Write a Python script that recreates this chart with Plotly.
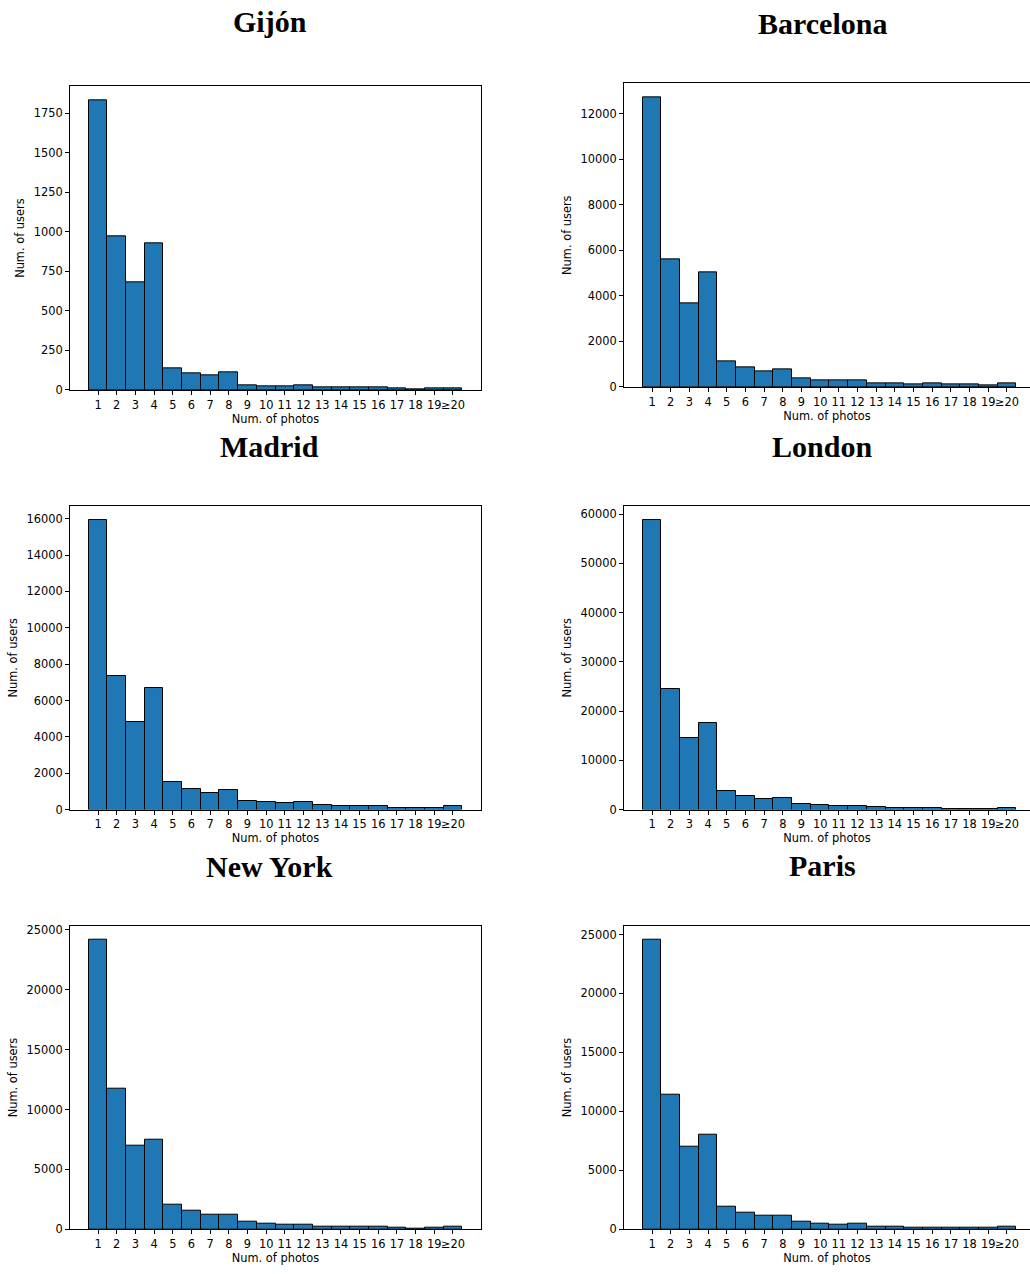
import plotly.graph_objects as go

photos = list(range(1, 21))
tick_labels = [str(i) for i in range(1, 20)] + ["≥20"]

cities = ["Gijón", "Barcelona", "Madrid", "London", "New York", "Paris"]

gijon = [1830, 970, 681, 931, 136, 105, 92, 111, 29, 21, 25, 31, 17, 17, 17, 17, 8, 4, 8, 10]
barcelona = [12700, 5620, 3690, 5030, 1133, 843, 697, 770, 378, 305, 276, 305, 174, 160, 131, 145, 102, 102, 73, 145]
madrid = [15900, 7360, 4830, 6670, 1530, 1111, 929, 1093, 492, 419, 364, 419, 237, 182, 182, 200, 109, 109, 91, 200]
london = [58720, 24480, 14530, 17490, 3767, 2758, 2220, 2287, 1143, 942, 807, 740, 471, 404, 269, 269, 202, 135, 135, 336]
new_york = [24140, 11720, 7020, 7440, 2074, 1548, 1189, 1217, 608, 498, 415, 415, 221, 194, 194, 194, 138, 83, 111, 194]
paris = [24520, 11430, 7020, 8006, 1910, 1404, 1124, 1180, 618, 478, 365, 449, 253, 197, 169, 169, 140, 112, 112, 197]

series = [gijon, barcelona, madrid, london, new_york, paris]
y_dticks = [250, 2000, 2000, 10000, 5000, 5000]

W, H = 1030, 1274
# pixel boxes: (left, right, top, bottom)
boxes = [
    (70, 481, 84, 390),
    (624, 1030, 81, 387),
    (70, 481, 507, 813),
    (624, 1030, 507, 813),
    (70, 481, 930, 1236),
    (624, 1030, 930, 1236),
]
title_pos = [(269.5, 19), (822, 21), (269.5, 447), (822, 447), (269.5, 870), (822, 869)]

fig = go.Figure()
tickfont = dict(family="DejaVu Sans", size=11.4, color="black")

for i, (name, vals) in enumerate(zip(cities, series)):
    n = "" if i == 0 else str(i + 1)
    fig.add_trace(go.Bar(
        x=photos, y=vals, width=1,
        marker=dict(color="#1f77b4", line=dict(color="black", width=1)),
        xaxis="x" + n, yaxis="y" + n, showlegend=False,
    ))
    l, r, t, b = boxes[i]
    right_col = (i % 2 == 1)
    xmax = 21.5 if not right_col else -0.5 + (r - l) / 18.68
    fig.layout["xaxis" + n] = dict(
        domain=[l / W, r / W], anchor="y" + n,
        range=[-0.5, xmax],
        tickmode="array", tickvals=photos, ticktext=tick_labels,
        tickangle=0,
        ticks="outside", ticklen=4, tickcolor="black", tickwidth=1,
        tickfont=tickfont,
        showline=True, linecolor="black", linewidth=1, mirror=True,
        showgrid=False, zeroline=False,
        title=dict(text="Num. of photos", font=tickfont, standoff=2),
    )
    fig.layout["yaxis" + n] = dict(
        domain=[1 - b / H, 1 - t / H], anchor="x" + n,
        range=[0, max(vals) * 1.05],
        dtick=y_dticks[i], tick0=0,
        tickformat="d",
        ticks="outside", ticklen=4, tickcolor="black", tickwidth=1,
        tickfont=tickfont,
        showline=True, linecolor="black", linewidth=1, mirror=not right_col,
        showgrid=False, zeroline=False,
        title=dict(text="Num. of users", font=tickfont, standoff=6),
    )
    tx, ty = title_pos[i]
    fig.add_annotation(
        text="<b>" + name + "</b>", x=tx / W, y=1 - ty / H,
        xref="paper", yref="paper", xanchor="center", yanchor="middle",
        showarrow=False,
        font=dict(family="Liberation Serif", size=30, color="black"),
    )

fig.update_layout(
    width=W, height=H,
    margin=dict(l=0, r=0, t=0, b=0),
    paper_bgcolor="white", plot_bgcolor="white",
    bargap=0,
)

fig.write_html("out.html")
